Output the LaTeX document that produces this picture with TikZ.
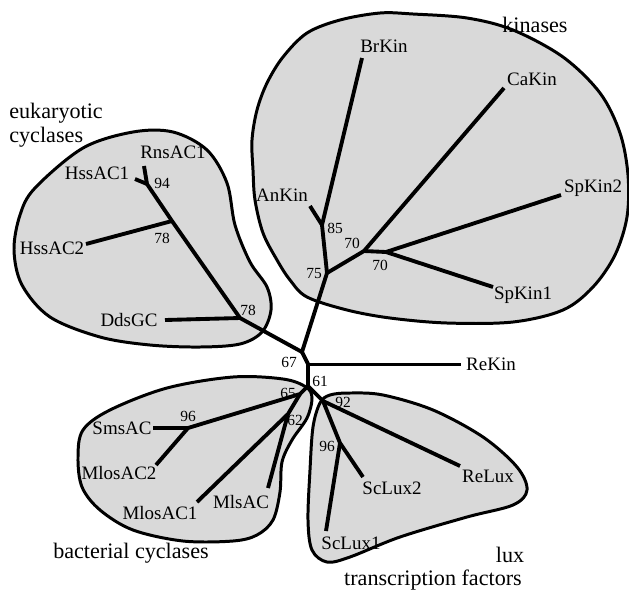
\documentclass[tikz,border=0pt]{standalone}
\usepackage{fontspec}
\setmainfont{Liberation Serif}
\tikzset{
  taxon/.style={inner sep=0pt,font=\fontsize{10.8}{12}\selectfont},
  boot/.style={inner sep=0pt,font=\fontsize{8.8}{10}\selectfont},
  grouplabel/.style={inner sep=0pt,align=left,font=\fontsize{12.6}{13.5}\selectfont},
  branch/.style={line width=2.2pt,line join=round},
  clade/.style={draw,line width=1.7pt,fill=black!15}
}

\begin{document}
\begin{tikzpicture}[x=0.02cm,y=-0.02cm]
  \useasboundingbox (0,0) rectangle (629,589);
  % clades
  \draw[clade] plot[smooth cycle,tension=0.55] coordinates {(252,140) (257,110) (267,83) (283,57)
    (307,33) (340,20) (380,13) (413,14) (467,18) (513,30) (563,57) (600,93) (620,133) (628,175)
    (627,217) (615,255) (593,287) (563,310) (513,322) (447,323) (390,318) (347,310) (307,297)
    (290,280) (277,260) (263,233) (255,200) (253,170)};
  \draw[clade] plot[smooth cycle,tension=0.55] coordinates {(14,250) (20,215) (35,188) (83,148)
    (133,132) (173,132) (207,150) (227,183) (235,225) (250,262) (267,287) (271,310) (262,332)
    (240,344) (200,347) (150,345) (100,337) (50,317) (22,285)};
  \draw[clade] plot[smooth cycle,tension=0.55] coordinates {(312,398) (307,418) (292,440)
    (282,462) (280,492) (273,520) (257,535) (233,541) (183,541) (133,530) (100,510) (82,487)
    (78,457) (83,430) (110,410) (167,388) (233,377) (283,379) (306,387)};
  \draw[clade] plot[smooth cycle,tension=0.55] coordinates {(330,395) (350,393) (383,395)
    (433,410) (483,437) (517,467) (527,490) (513,505) (467,517) (400,537) (350,557) (327,562)
    (312,550) (308,520) (310,470) (313,427) (320,403)};

  % inner nodes
  \coordinate (n67) at (302,352);
  \coordinate (nre) at (308,364);
  \coordinate (n61) at (308,386);
  \coordinate (n75) at (327,273);
  \coordinate (n85) at (322,225);
  \coordinate (n70a) at (364,251);
  \coordinate (n70b) at (386,252);
  \coordinate (n78a) at (240,318);
  \coordinate (n78b) at (172,221);
  \coordinate (n94) at (147,184);
  \coordinate (n65) at (300,394);
  \coordinate (n96b) at (188,428);
  \coordinate (n62) at (288,414);
  \coordinate (n92) at (323,401);
  \coordinate (n96l) at (340,443);

  % leaves
  \coordinate (brkin) at (362,58);
  \coordinate (ankin) at (310,206);
  \coordinate (cakin) at (504,88);
  \coordinate (spkin2) at (561,195);
  \coordinate (spkin1) at (493,287);
  \coordinate (rekin) at (461,364);
  \coordinate (ddsgc) at (165,320);
  \coordinate (hssac2) at (86,244);
  \coordinate (hssac1) at (135,179);
  \coordinate (rnsac1) at (144,166);
  \coordinate (smsac) at (153,428);
  \coordinate (mlosac2) at (156,465);
  \coordinate (mlosac1) at (197,502);
  \coordinate (mlsac) at (268,488);
  \coordinate (relux) at (460,466);
  \coordinate (sclux2) at (363,477);
  \coordinate (sclux1) at (326,531);

  % branches
  \draw[branch] (n61) -- (nre) -- (n67) -- (n75) -- (n85) -- (brkin);
  \draw[branch] (ankin) -- (n85);
  \draw[branch] (n75) -- (n70a) -- (n70b) -- (spkin2);
  \draw[branch] (n70a) -- (cakin);
  \draw[branch] (n70b) -- (spkin1);
  \draw[line width=1.7pt] (nre) -- (rekin);
  \draw[branch] (n67) -- (n78a) -- (n78b) -- (n94) -- (rnsac1);
  \draw[branch] (n94) -- (hssac1);
  \draw[branch] (n78b) -- (hssac2);
  \draw[branch] (n78a) -- (ddsgc);
  \draw[branch] (n61) -- (n65) -- (n96b) -- (smsac);
  \draw[branch] (n96b) -- (mlosac2);
  \draw[branch] (n65) -- (n62) -- (mlosac1);
  \draw[branch] (n62) -- (mlsac);
  \draw[branch] (n61) -- (n92) -- (relux);
  \draw[branch] (n92) -- (n96l) -- (sclux2);
  \draw[branch] (n96l) -- (sclux1);

  % taxa
  \node[taxon] (lbrkin) at (384,46) {BrKin};
  \node[taxon] (lankin) at (282,195) {AnKin};
  \node[taxon] (lcakin) at (532,79) {CaKin};
  \node[taxon] (lspkin2) at (593,188) {SpKin2};
  \node[taxon] (lspkin1) at (523,295) {SpKin1};
  \node[taxon] (lrekin) at (491,364) {ReKin};
  \node[taxon] (lddsgc) at (129,320) {DdsGC};
  \node[taxon] (lhssac2) at (52,248) {HssAC2};
  \node[taxon] (lhssac1) at (97,173) {HssAC1};
  \node[taxon] (lrnsac1) at (173,152) {RnsAC1};
  \node[taxon] (lsmsac) at (122,428) {SmsAC};
  \node[taxon] (lmlosac2) at (119,473) {MlosAC2};
  \node[taxon] (lmlosac1) at (160,513) {MlosAC1};
  \node[taxon] (lmlsac) at (241,502) {MlsAC};
  \node[taxon] (lrelux) at (488,476) {ReLux};
  \node[taxon] (lsclux2) at (392,488) {ScLux2};
  \node[taxon] (lsclux1) at (351,543) {ScLux1};

  % bootstrap values
  \node[boot] (b85) at (335,228) {85};
  \node[boot] (b70a) at (352,243) {70};
  \node[boot] (b70b) at (380,265) {70};
  \node[boot] (b75) at (314,274) {75};
  \node[boot] (b94) at (162,183) {94};
  \node[boot] (b78b) at (162,238) {78};
  \node[boot] (b78a) at (248,310) {78};
  \node[boot] (b67) at (289,362) {67};
  \node[boot] (b61) at (320,381) {61};
  \node[boot] (b65) at (288,393) {65};
  \node[boot] (b62) at (295,420) {62};
  \node[boot] (b96b) at (188,416) {96};
  \node[boot] (b92) at (343,402) {92};
  \node[boot] (b96l) at (327,446) {96};

  % groups
  \node[grouplabel] (gkin) at (535,25) {kinases};
  \node[grouplabel,anchor=west] (geuk) at (9,125) {eukaryotic\\cyclases};
  \node[grouplabel] (gbac) at (131,553) {bacterial cyclases};
  \node[grouplabel] (glux) at (510,555) {lux};
  \node[grouplabel] (gtf) at (433,580) {transcription factors};
\end{tikzpicture}
\end{document}
